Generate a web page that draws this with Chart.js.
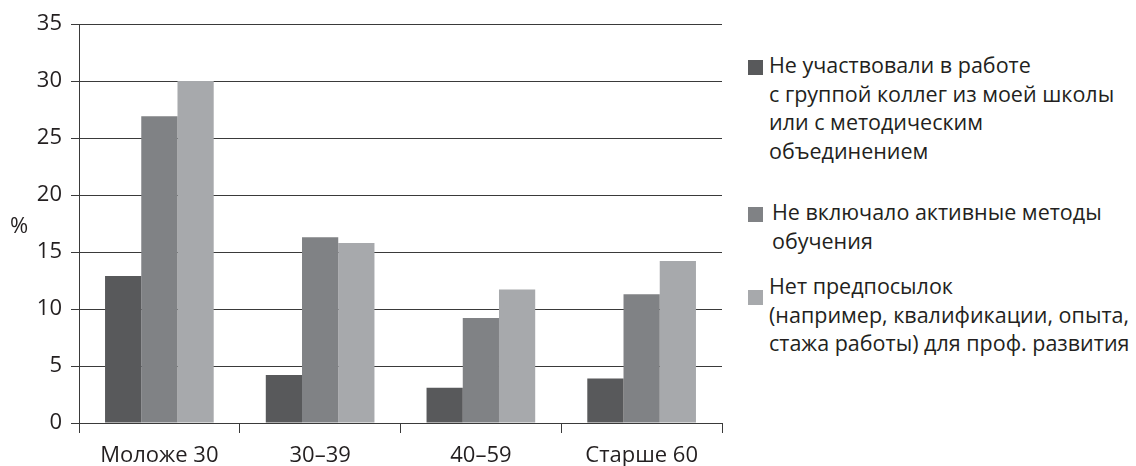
<!DOCTYPE html>
<html>

<head>
    <meta charset="utf-8">
    <title>Проф. развитие по возрасту</title>
    <script src="https://cdn.jsdelivr.net/npm/chart.js"></script>
    <style>
        body {
            margin: 0;
            background: #fff;
            font-family: "Open Sans", sans-serif;
            color: #231f20;
        }

        #wrap {
            position: relative;
            width: 1136px;
            height: 466px;
        }

        #chart {
            position: absolute;
            left: 0;
            top: 0;
        }

        #yTitle {
            position: absolute;
            left: 10px;
            top: 209px;
            font-size: 22px;
        }

        #legend {
            position: absolute;
            left: 748px;
            top: 51px;
            font-size: 21.5px;
            line-height: 28.5px;
        }

        .item {
            display: flex;
            align-items: flex-start;
        }

        .item .box {
            width: 15px;
            height: 15px;
            flex: none;
            margin-top: 9px;
            margin-right: 6px;
        }

        .item span {
            white-space: pre-line;
        }

        .item:nth-child(2) {
            margin-top: 33px;
        }

        .item:nth-child(2) span {
            margin-left: 3px;
        }

        .item:nth-child(3) {
            margin-top: 17px;
        }

        .item:nth-child(3) .box {
            margin-top: 18px;
        }
    </style>
</head>

<body>
    <div id="wrap">
        <canvas id="chart" width="740" height="466"></canvas>
        <div id="yTitle">%</div>
        <div id="legend"></div>
    </div>

    <script>
        // age groups
        const categories = ['Моложе 30', '30–39', '40–59', 'Старше 60'];

        // series values, %
        const noGroupWork = [12.9, 4.2, 3.1, 3.9];
        const noActiveMethods = [26.9, 16.3, 9.2, 11.3];
        const noPrerequisites = [30.0, 15.8, 11.7, 14.2];

        const seriesNames = [
            'Не участвовали в работе\nс группой коллег из моей школы\nили с методическим\nобъединением',
            'Не включало активные методы\nобучения',
            'Нет предпосылок\n(например, квалификации, опыта,\nстажа работы) для проф. развития'
        ];
        const seriesColors = ['#58595b', '#808285', '#a7a9ac'];

        const yMax = 35;
        const yStep = 5;

        const inkColor = '#231f20';
        const gridColor = '#3a3a3a';
        const tickFont = { family: 'Open Sans', size: 22 };

        const ctx = document.getElementById('chart').getContext('2d');

        const chart = new Chart(ctx, {
            type: 'bar',
            data: {
                labels: categories,
                datasets: [noGroupWork, noActiveMethods, noPrerequisites].map((vals, i) => ({
                    label: seriesNames[i],
                    data: vals,
                    backgroundColor: seriesColors[i],
                    borderWidth: 0,
                    categoryPercentage: 0.676,
                    barPercentage: 1
                }))
            },
            options: {
                responsive: false,
                animation: false,
                layout: {
                    padding: { top: 24, right: 18, bottom: 0, left: 0 }
                },
                plugins: {
                    legend: { display: false },
                    tooltip: { enabled: false }
                },
                scales: {
                    x: {
                        grid: {
                            offset: true,
                            drawOnChartArea: false,
                            tickLength: 10,
                            color: gridColor,
                            lineWidth: 1
                        },
                        border: { display: true, color: gridColor, width: 1 },
                        ticks: {
                            color: inkColor,
                            font: tickFont,
                            padding: 10,
                            maxRotation: 0
                        },
                        afterFit: s => { s.height = 43; }
                    },
                    y: {
                        min: 0,
                        max: yMax,
                        grid: {
                            tickLength: 8,
                            color: gridColor,
                            lineWidth: 1
                        },
                        border: { display: true, color: gridColor, width: 1 },
                        ticks: {
                            stepSize: yStep,
                            color: inkColor,
                            font: tickFont,
                            padding: 9
                        },
                        afterFit: s => { s.width = 79; }
                    }
                }
            }
        });

        // legend in HTML so the multi-line labels wrap like the original
        const legend = document.getElementById('legend');
        chart.data.datasets.forEach(ds => {
            const item = document.createElement('div');
            item.className = 'item';
            const box = document.createElement('div');
            box.className = 'box';
            box.style.background = ds.backgroundColor;
            const text = document.createElement('span');
            text.textContent = ds.label;
            item.appendChild(box);
            item.appendChild(text);
            legend.appendChild(item);
        });
    </script>
</body>

</html>
